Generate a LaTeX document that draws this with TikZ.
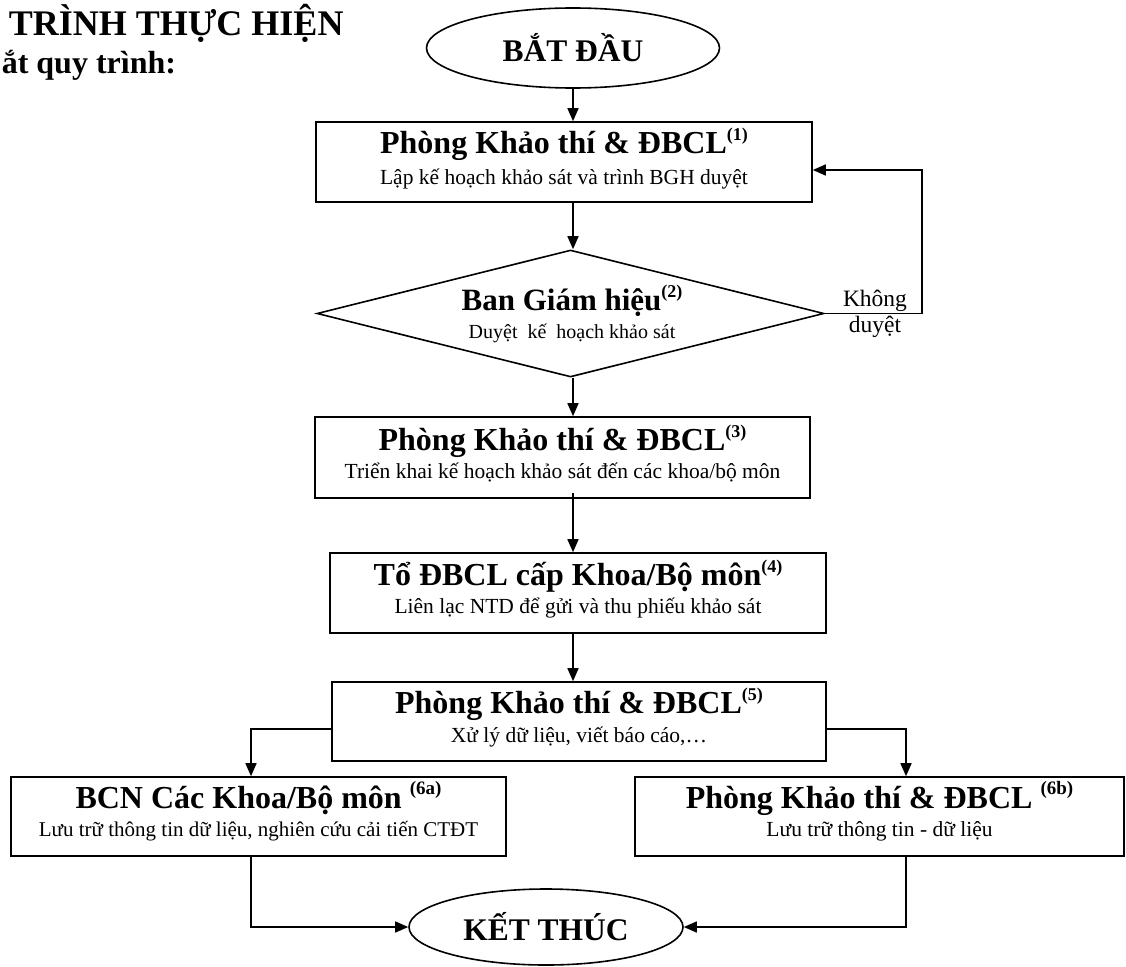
\documentclass[tikz,border=0pt]{standalone}
\usepackage{fontspec}
\setmainfont{Liberation Serif}
\usetikzlibrary{arrows.meta,shapes.geometric}
\newcommand\supn[1]{\raisebox{13pt}{\fontsize{18}{18}\selectfont\bfseries(#1)}}
\newcommand\supw[1]{\raisebox{14pt}{\fontsize{19}{19}\selectfont\bfseries(#1)}}
\begin{document}
\begin{tikzpicture}[x=1pt,y=-1pt,line width=1.6pt,
  box/.style={draw,rectangle,inner sep=0pt},
  oval/.style={draw,ellipse,inner sep=0pt,font=\fontsize{31.5}{31.5}\selectfont\bfseries},
  ttl/.style={inner sep=0pt,anchor=base,font=\fontsize{32}{32}\selectfont\bfseries},
  sub/.style={inner sep=0pt,anchor=base,font=\fontsize{21.5}{21.5}\selectfont},
  lbl/.style={inner sep=0pt,anchor=base,font=\fontsize{23.5}{23.5}\selectfont},
  arr/.style={-{Triangle[length=13pt,width=11pt]}}]
\useasboundingbox (0,0) rectangle (1126,966);

% heading
\node[inner sep=0pt,anchor=base west,font=\fontsize{36}{36}\selectfont\bfseries] (h1) at (8,36) {TRÌNH THỰC HIỆN};
\node[inner sep=0pt,anchor=base west,font=\fontsize{32}{32}\selectfont\bfseries] (h2) at (1,74) {ắt quy trình:};

% start
\node[oval,minimum width=293pt,minimum height=80pt] (start) at (573,48) {BẮT ĐẦU};

% box 1
\node[box,minimum width=496pt,minimum height=80pt] (b1) at (564,162) {};
\node[ttl] (t1) at (564,153) {Phòng Khảo thí \& ĐBCL\supn{1}};
\node[sub] (s1) at (564,184) {Lập kế hoạch khảo sát và trình BGH duyệt};

% diamond
\node[draw,diamond,inner sep=0pt,minimum width=507pt,minimum height=127pt] (d) at (570.5,313.5) {};
\node[ttl,font=\fontsize{31}{31}\selectfont\bfseries] (t2) at (572,310) {Ban Giám hiệu\supn{2}};
\node[sub,font=\fontsize{20}{20}\selectfont] (s2) at (572,338) {Duyệt\ \ kế\ \ hoạch khảo sát};
\node[lbl] (k1) at (875,306) {Không};
\node[lbl] (k2) at (875,332) {duyệt};

% box 3
\node[box,minimum width=495pt,minimum height=81pt] (b3) at (562.5,457.5) {};
\node[ttl] (t3) at (562.5,450) {Phòng Khảo thí \& ĐBCL\supn{3}};
\node[sub] (s3) at (562.5,478) {Triển khai kế hoạch khảo sát đến các khoa/bộ môn};

% box 4
\node[box,minimum width=496pt,minimum height=80pt] (b4) at (578,593) {};
\node[ttl] (t4) at (578,585) {Tổ ĐBCL cấp Khoa/Bộ môn\supn{4}};
\node[sub] (s4) at (578,613) {Liên lạc NTD để gửi và thu phiếu khảo sát};

% box 5
\node[box,minimum width=494pt,minimum height=79pt] (b5) at (579,721.5) {};
\node[ttl] (t5) at (579,713) {Phòng Khảo thí \& ĐBCL\supn{5}};
\node[sub] (s5) at (579,742) {Xử lý dữ liệu, viết báo cáo,…};

% box 6a
\node[box,minimum width=495pt,minimum height=79pt] (b6a) at (258.5,816.5) {};
\node[ttl] (t6a) at (258.5,808) {BCN Các Khoa/Bộ môn \supw{6a}};
\node[sub,font=\fontsize{21}{21}\selectfont] (s6a) at (258.5,836) {Lưu trữ thông tin dữ liệu, nghiên cứu cải tiến CTĐT};

% box 6b
\node[box,minimum width=489pt,minimum height=79pt] (b6b) at (879.5,816.5) {};
\node[ttl] (t6b) at (879.5,808) {Phòng Khảo thí \& ĐBCL \supw{6b}};
\node[sub] (s6b) at (879.5,836) {Lưu trữ thông tin - dữ liệu};

% end
\node[oval,minimum width=274pt,minimum height=76pt] (end) at (546,927) {KẾT THÚC};

% connectors
\coordinate (fb) at (922,170);
\coordinate (l1) at (251,729);
\coordinate (r1) at (906,729);

\draw[arr] (start.south) -- (start.south |- b1.north);
\draw[arr] (start.south |- b1.south) -- (d.north -| start.south);
\draw[arr] (d.south -| start.south) -- (start.south |- b3.north);
\draw[arr] ([yshift=6pt]start.south |- b3.south) -- (start.south |- b4.north);
\draw[arr] (start.south |- b4.south) -- (start.south |- b5.north);
\draw[arr] (d.east) -- (d.east -| fb) -- (fb) -- (fb -| b1.east);
\draw[arr] (b5.west |- l1) -- (l1) -- (l1 |- b6a.north);
\draw[arr] (b5.east |- r1) -- (r1) -- (r1 |- b6b.north);
\draw[arr] (l1 |- b6a.south) -- (l1 |- end.west) -- (end.west);
\draw[arr] (r1 |- b6b.south) -- (r1 |- end.east) -- (end.east);
\end{tikzpicture}
\end{document}
